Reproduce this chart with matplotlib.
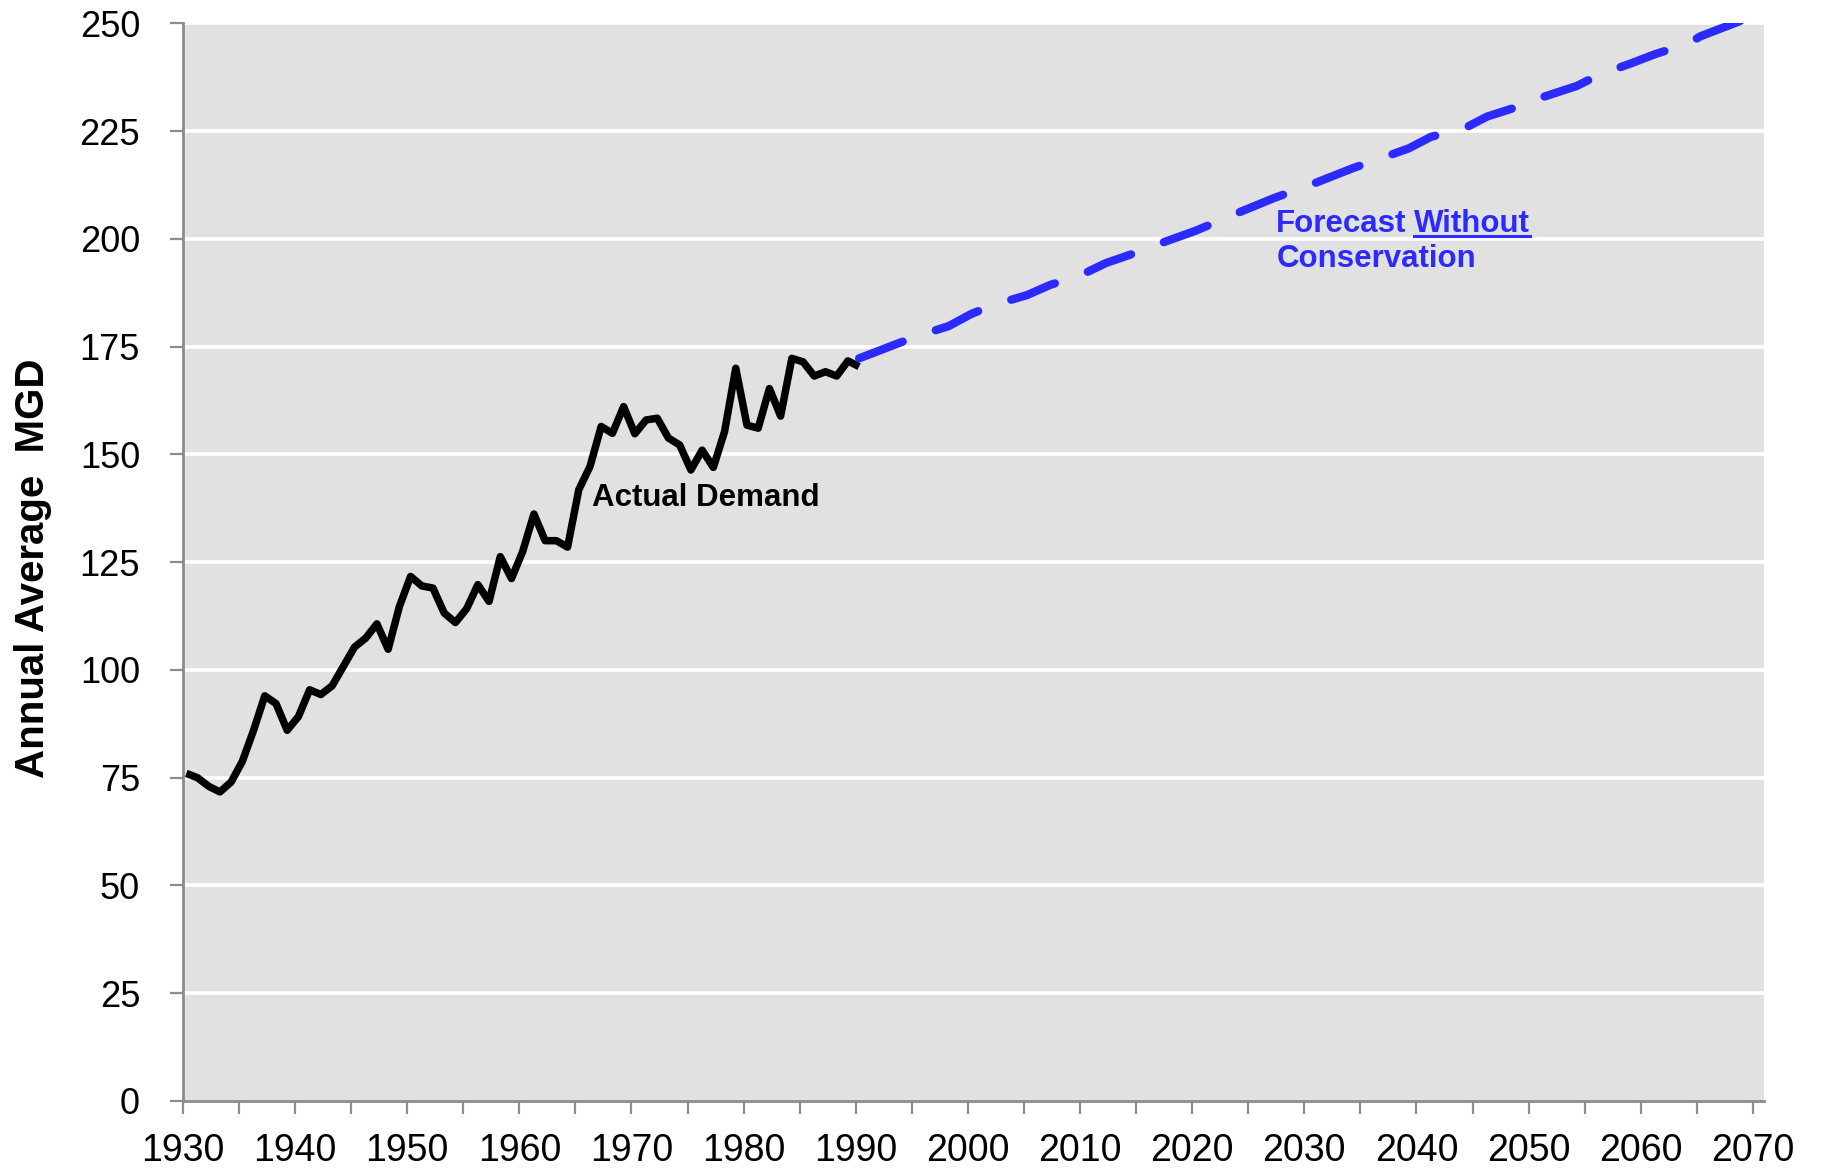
import matplotlib
matplotlib.use("Agg")
import matplotlib.pyplot as plt
from matplotlib.lines import Line2D
from matplotlib.transforms import IdentityTransform
from matplotlib.ticker import MultipleLocator

# ---------------- data ----------------
actual_years = list(range(1930, 1991))
actual_mgd = [76.0, 75.0, 73.0, 71.7, 74.0, 78.8, 86.0, 94.0, 92.2, 86.0,
              89.2, 95.4, 94.3, 96.3, 100.8, 105.3, 107.4, 110.7, 104.8, 114.7,
              121.7, 119.5, 119.0, 113.2, 111.0, 114.2, 119.8, 115.9, 126.3, 121.2,
              127.5, 136.2, 130.0, 130.0, 128.5, 141.8, 147.2, 156.5, 154.9, 161.1,
              154.8, 158.0, 158.4, 153.8, 152.2, 146.4, 151.0, 147.0, 155.3, 170.0,
              156.8, 156.1, 165.3, 158.9, 172.3, 171.5, 168.2, 169.2, 168.2, 171.7,
              170.4]

forecast_years = [1990, 1995, 1998, 2000, 2002, 2005, 2007, 2010, 2012, 2015,
                  2017, 2020, 2021, 2024, 2027, 2030, 2034, 2039, 2041, 2044,
                  2046, 2049, 2050, 2052, 2054, 2056, 2059, 2061, 2064, 2065, 2070]
forecast_mgd = [172.3, 177.3, 179.8, 182.6, 184.7, 187.0, 189.3, 191.9, 194.4, 197.1,
                199.1, 201.9, 203.0, 206.3, 209.5, 212.3, 216.4, 221.0, 223.7, 225.7,
                228.4, 230.9, 232.1, 233.8, 235.5, 238.1, 240.9, 242.9, 245.4, 247.0, 252.0]

x_ticks = list(range(1930, 2071, 10))
y_ticks = list(range(0, 251, 25))

BLUE = "#2b2bff"
GRAY = "#8c8c8c"
X_SHIFT = 0.3  # points sit slightly right of the year ticks in the original

plt.rcParams['font.family'] = ['Liberation Sans', 'DejaVu Sans']

fig = plt.figure(figsize=(18.22, 11.68), dpi=100)
ax = fig.add_axes([0.1004, 0.0574, 0.8678, 0.9225])
ax.set_facecolor("#e1e1e1")

ax.set_xlim(1930, 2071)
ax.set_ylim(0, 250)

ax.set_yticks(y_ticks)
ax.set_xticks(x_ticks)
ax.xaxis.set_minor_locator(MultipleLocator(5))

for y in y_ticks[1:]:
    ax.axhline(y, color="white", lw=2.6, zorder=1)

ax.plot([y + X_SHIFT for y in actual_years], actual_mgd, color="black", lw=5.4,
        zorder=3, solid_joinstyle="round", solid_capstyle="butt")
ax.plot([y + X_SHIFT for y in forecast_years], forecast_mgd, color=BLUE, lw=6.0,
        zorder=3, dashes=(5.6, 4.2), dash_capstyle="round", dash_joinstyle="round")

for s in ["top", "right"]:
    ax.spines[s].set_visible(False)
for s in ["left", "bottom"]:
    ax.spines[s].set_color(GRAY)
    ax.spines[s].set_linewidth(2.0)
    ax.spines[s].set_zorder(4)

ax.tick_params(axis="both", which="both", direction="out", length=9.4,
               width=1.6, color=GRAY, labelcolor="black")
ax.tick_params(axis="y", pad=21.5, labelsize=26)
ax.tick_params(axis="x", pad=14, labelsize=27)

ax.set_ylabel("Annual Average  MGD", fontsize=29, fontweight="bold")
ax.yaxis.set_label_coords(-0.083, 0.494)

ax.text(1966.45, 138.0, "Actual Demand", fontsize=22.5, fontweight="bold",
        color="black", va="baseline", ha="left", zorder=5)

t1 = ax.text(2027.5, 201.7, "Forecast", fontsize=22.5, fontweight="bold",
             color=BLUE, va="baseline", ha="left", zorder=5)
ax.text(2027.5, 193.4, "Conservation", fontsize=22.5, fontweight="bold",
        color=BLUE, va="baseline", ha="left", zorder=5)

fig.canvas.draw()
renderer = fig.canvas.get_renderer()
bb1 = t1.get_window_extent(renderer)
base_disp = ax.transData.transform((2027.5, 201.7))
x2_data = ax.transData.inverted().transform((bb1.x1 + 7, base_disp[1]))[0]
t2 = ax.text(x2_data, 201.7, "Without", fontsize=22.5, fontweight="bold",
             color=BLUE, va="baseline", ha="left", zorder=5)
fig.canvas.draw()
bb2 = t2.get_window_extent(renderer)
uy = base_disp[1] - 4.5
fig.add_artist(Line2D([bb2.x0, bb2.x1], [uy, uy], transform=IdentityTransform(),
                      color=BLUE, lw=2.2))

fig.savefig("out.png", dpi=100)
